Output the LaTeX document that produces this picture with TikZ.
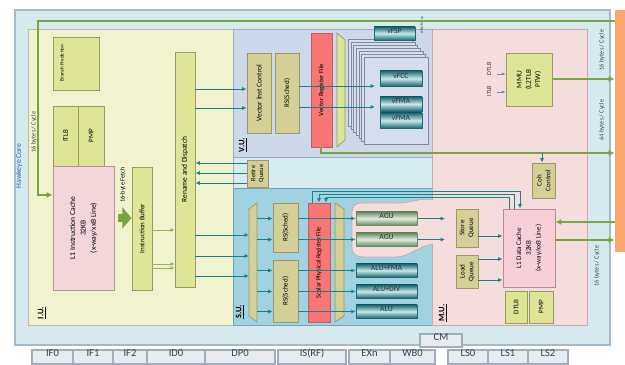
\documentclass[tikz,border=0pt]{standalone}
\usepackage{fontspec}
\setmainfont{Carlito}
\usetikzlibrary{arrows.meta,fit,calc}
\definecolor{bgblue}{RGB}{214,233,238}
\definecolor{bgbord}{RGB}{165,185,200}
\definecolor{orng}{RGB}{250,168,112}
\definecolor{iufill}{RGB}{241,243,206}
\definecolor{iubord}{RGB}{185,190,160}
\definecolor{vufill}{RGB}{205,216,234}
\definecolor{vubord}{RGB}{160,172,192}
\definecolor{vupage}{RGB}{214,222,238}
\definecolor{rtfill}{RGB}{214,236,240}
\definecolor{sufill}{RGB}{160,210,226}
\definecolor{subord}{RGB}{110,165,185}
\definecolor{mufill}{RGB}{246,221,221}
\definecolor{mubord}{RGB}{200,170,170}
\definecolor{yfill}{RGB}{222,229,150}
\definecolor{ybord}{RGB}{150,155,95}
\definecolor{kfill}{RGB}{212,207,150}
\definecolor{kbord}{RGB}{160,150,100}
\definecolor{pkfill}{RGB}{242,214,218}
\definecolor{pkbord}{RGB}{180,150,155}
\definecolor{l1dfill}{RGB}{248,206,216}
\definecolor{l1dbord}{RGB}{190,135,150}
\definecolor{rfred}{RGB}{248,118,118}
\definecolor{rfbord}{RGB}{200,90,90}
\definecolor{gline}{RGB}{120,165,60}
\definecolor{glight}{RGB}{150,180,95}
\definecolor{teal1}{RGB}{25,130,135}
\definecolor{tealdk}{RGB}{30,105,115}
\definecolor{tealmid}{RGB}{200,232,232}
\definecolor{agudk}{RGB}{105,140,100}
\definecolor{agumid}{RGB}{225,238,220}
\definecolor{pipefill}{RGB}{232,235,240}
\definecolor{pipebord}{RGB}{165,172,185}
\definecolor{pipetxt}{RGB}{55,65,85}
\definecolor{hawk}{RGB}{50,100,175}
\definecolor{mmuarr}{RGB}{95,140,195}
\newcommand\myfs[1]{\fontsize{#1}{#1}\selectfont}
\begin{document}
\begin{tikzpicture}[x=0.025cm,y=-0.025cm,
  bg/.style={inner sep=0pt, line width=0.6pt},
  ybox/.style={draw=ybord, fill=yfill, line width=0.6pt, inner sep=0pt},
  kbox/.style={draw=kbord, fill=kfill, line width=0.6pt, inner sep=0pt},
  pbox/.style={draw=pkbord, fill=pkfill, line width=0.6pt, inner sep=0pt},
  rbox/.style={draw=rfbord, fill=rfred, line width=0.6pt, inner sep=0pt},
  rt/.style={rotate=90, align=center, inner sep=0pt, font=\fontsize{5}{6.2}\selectfont},
  alubox/.style={draw=tealdk, top color=tealdk, bottom color=tealdk, middle color=tealmid, line width=0.5pt, inner sep=0pt, font=\myfs{5.5}, text=black!80},
  agubox/.style={draw=agudk, top color=agudk, bottom color=agudk, middle color=agumid, line width=0.5pt, inner sep=0pt, font=\myfs{5.5}, text=black!80},
  pipe/.style={draw=pipebord, fill=pipefill, line width=0.8pt, inner sep=0pt, font=\myfs{7.5}, text=pipetxt},
  side/.style={rotate=90, font=\myfs{4.5}, text=black!75, inner sep=0pt},
  ulabel/.style={rotate=90, font=\bfseries\myfs{6}, inner sep=0pt},
  tarr/.style={draw=teal1, line width=0.7pt, -{Latex[length=1.1mm,width=1mm]}},
  gln/.style={draw=gline, line width=1.4pt},
  garr/.style={gln, -{Latex[length=1.5mm,width=1.5mm]}},
  glarr/.style={draw=glight, line width=0.7pt, -{Latex[length=1mm,width=1mm]}}]
\useasboundingbox (0,0) rectangle (625,365);
% ---------- backgrounds ----------
\node[bg, fit={(15,10)(610,345)}, fill=bgblue, draw=bgbord, line width=0.8pt] (core) {};
\node[bg, fit={(615,10)(625,252)}, fill=orng] (l2) {};
\node[bg, fit={(28,29)(233,325)}, fill=iufill, draw=iubord] (iu) {};
\node[bg, fit={(233,29)(432,157)}, fill=vufill, draw=vubord] (vu) {};
\node[bg, fit={(233,157)(432,188)}, fill=rtfill, draw=vubord] (rtr) {};
\node[bg, fit={(233,188)(432,325)}, fill=sufill, draw=subord] (su) {};
\node[bg, fit={(432,29)(587,325)}, fill=mufill, draw=mubord] (mu) {};
% pink extension of M.U. around the AGUs
\fill[mufill] (433,200) .. controls (420,197) and (410,204) .. (395,203) -- (364,203)
  .. controls (353,203) and (352,207) .. (352,215) -- (352,246)
  .. controls (352,255) and (356,257) .. (366,257) -- (395,257)
  .. controls (410,257) and (418,246) .. (433,244) -- cycle;
\draw[mubord, line width=0.5pt] (433,200) .. controls (420,197) and (410,204) .. (395,203) -- (364,203)
  .. controls (353,203) and (352,207) .. (352,215) -- (352,246)
  .. controls (352,255) and (356,257) .. (366,257) -- (395,257)
  .. controls (410,257) and (418,246) .. (433,244);
% ---------- side labels ----------
\node[rotate=90, font=\myfs{5.5}, text=hawk, inner sep=0pt] (hk) at (19,166) {Hawkeye Core};
\node[side] (bw1) at (34,132) {16 bytes / Cycle};
\node[side] (bw2) at (602,50) {16 bytes / Cycle};
\node[side] (bw3) at (602,120) {64 bytes / Cycle};
\node[side] (bw4) at (597,266) {16 bytes / Cycle};
\node[rotate=90, font=\myfs{3}, inner sep=0pt, text=black!70] (ent) at (422,25) {64b/Entry};
% ---------- I.U. ----------
\node[ybox, fit={(53,37)(99,90)}] (bp) {};
\node[rt, font=\myfs{3.6}] (bpT) at (62,63) {Branch Prediction};
\node[ybox, fit={(53,106)(78,166)}] (itlb) {};
\node[rt] (itlbT) at (itlb) {ITLB};
\node[ybox, fit={(78,106)(104,166)}] (ipmp) {};
\node[rt] (ipmpT) at (ipmp) {PMP};
\node[pbox, fit={(53,166)(114,290)}] (ic) {};
\node[rt, font=\fontsize{5.4}{7.4}\selectfont] (icT) at (ic) {L1 Instruction Cache\\32KB\\(x-way/xxB Line)};
\node[ybox, fit={(132,167)(152,290)}] (ib) {};
\node[rt] (ibT) at (ib) {Instruction Buffer};
\node[ybox, fit={(175,52)(195,287)}] (ren) {};
\node[rt, font=\myfs{5.3}] (renT) at (ren) {Rename and Dispatch};
\node[rt, font=\myfs{4.5}] (fetch) at (123,185) {16-byte Fetch};
\node[ulabel] (iul) at (42,313) {\underline{I.U.}};
% ---------- V.U. ----------
\node[kbox, fit={(247,53)(271,133)}] (vic) {};
\node[rt, font=\myfs{5.3}] (vicT) at (vic) {Vector Inst Control};
\node[kbox, fit={(275,53)(299,133)}] (vrs) {};
\node[rt] (vrsT) at (vrs) {RS(Sched)};
\node[rbox, fit={(311,33)(332,147)}] (vrf) {};
\node[rt, font=\myfs{4.8}] (vrfT) at (321.5,90) {Vector Register File};
\fill[yfill, draw=ybord, line width=0.5pt] (337,33) -- (345,40) -- (345,140) -- (337,147) -- cycle;
\foreach \i in {6,5,...,1} {
  \draw[fill=vupage, draw=vubord!80!black, line width=0.4pt] ({364-2.6*\i},{57-2.9*\i}) rectangle ++(64,87);
}
\node[bg, fit={(364,57)(428,144)}, fill=vupage, draw=vubord!80!black, line width=0.5pt] (vpg) {};
\node[alubox, fit={(374,27)(415,40)}] (vfsp) {vFSP};
\node[alubox, fit={(380,71)(422,86)}] (vfcc) {vFCC};
\node[alubox, fit={(380,97)(422,111)}] (vfma1) {vFMA};
\node[alubox, fit={(380,113)(422,128)}] (vfma2) {vFMA};
\node[ulabel] (vul) at (243,145) {\underline{V.U.}};
\node[kbox, fit={(247,160)(268,187)}] (rq) {};
\node[rt, font=\fontsize{4.6}{5.6}\selectfont] (rqT) at (rq) {Retire\\Queue};
% ---------- S.U. ----------
\fill[kfill, draw=kbord, line width=0.5pt] (249,209) -- (257,203) -- (257,322) -- (249,316) -- cycle;
\coordinate (mxl) at (249,260);
\coordinate (mxr) at (257,260);
\node[kbox, fit={(273,203)(298,252)}] (rs1) {};
\node[rt] (rs1T) at (rs1) {RS(Sched)};
\node[kbox, fit={(273,260)(298,322)}] (rs2) {};
\node[rt] (rs2T) at (rs2) {RS(Sched)};
\node[rbox, fit={(308,203)(330,322)}] (sprf) {};
\node[rt, font=\myfs{4.6}] (sprfT) at (sprf) {Scalar Physical Register File};
\fill[kfill, draw=kbord, line width=0.5pt] (335,203) -- (344,209) -- (344,316) -- (335,322) -- cycle;
\node[agubox, fit={(356,212)(417,225)}] (agu1) {AGU};
\node[agubox, fit={(356,233)(417,246)}] (agu2) {AGU};
\node[alubox, fit={(356,264)(417,277)}] (alu1) {ALU+FMA};
\node[alubox, fit={(356,285)(417,298)}] (alu2) {ALU+DIV};
\node[alubox, fit={(356,305)(417,318)}] (alu3) {ALU};
\node[ulabel] (sul) at (240,312) {\underline{S.U.}};
% ---------- M.U. ----------
\node[ybox, fit={(506,53)(552,106)}] (mmu) {};
\node[rt, font=\fontsize{5.2}{6.6}\selectfont] (mmuT) at (mmu) {MMU\\(L2TLB\\PTW)};
\node[side] (dtl) at (489,69) {DTLB};
\node[side] (itl) at (489,91) {ITLB};
\node[kbox, fit={(532,163)(555,198)}] (coh) {};
\node[rt] (cohT) at (coh) {Coh\\Control};
\node[kbox, fit={(456,209)(478,247)}] (sq) {};
\node[rt] (sqT) at (sq) {Store\\Queue};
\node[kbox, fit={(456,255)(478,288)}] (lq) {};
\node[rt] (lqT) at (lq) {Load\\Queue};
\node[fit={(503,209)(555,287)}, draw=l1dbord, fill=l1dfill, line width=0.6pt, inner sep=0pt] (l1d) {};
\node[rt, font=\fontsize{5}{7}\selectfont] (l1dT) at (l1d) {L1 Data Cache\\32KB\\(x-way/xxB Line)};
\node[ybox, fit={(505,291)(527,323)}] (dtlb) {};
\node[rt] (dtlbT) at (dtlb) {DTLB};
\node[ybox, fit={(529,291)(553,323)}] (dpmp) {};
\node[rt] (dpmpT) at (dpmp) {PMP};
\node[ulabel] (mul) at (443,313) {\underline{M.U.}};
% ---------- pipeline ----------
\node[pipe, fit={(420,334)(462,347)}] (cm) {CM};
\node[pipe, fit={(32,350)(73,364)}] (p1) {IF0};
\node[pipe, fit={(73,350)(113,364)}] (p2) {IF1};
\node[pipe, fit={(113,350)(147,364)}] (p3) {IF2};
\node[pipe, fit={(147,350)(205,364)}] (p4) {ID0};
\node[pipe, fit={(205,350)(275,364)}] (p5) {DP0};
\node[pipe, fit={(278,350)(346,364)}] (p6) {IS(RF)};
\node[pipe, fit={(349,350)(390,364)}] (p7) {EXn};
\node[pipe, fit={(390,350)(435,364)}] (p8) {WB0};
\node[pipe, fit={(448,350)(488,364)}] (p9) {LS0};
\node[pipe, fit={(488,350)(528,364)}] (p10) {LS1};
\node[pipe, fit={(528,350)(568,364)}] (p11) {LS2};
% ---------- green connectors ----------
\draw[garr] (l2.west |- 0,21) -- (38,21) -- (38,195) -- (ic.west |- 0,195);
\draw[garr] (mmu.east |- 0,79) -- (l2.west |- 0,79);
\draw[garr] (vrf.south -| 321,0) -- (321,153) -- (l2.west |- 0,153);
\draw[garr] (l2.west |- 0,222) -- (l1d.east |- 0,222);
\draw[garr] (l1d.east |- 0,240) -- (l2.west |- 0,240);
\draw[draw=gline, line width=6pt, -{Triangle[length=2.3mm,width=5.2mm]}, shorten <=2.5pt] (ic.east |- 0,218) -- (ib.west |- 0,218);
\draw[glarr] (ib.east |- 0,230) -- (ren.west |- 0,230);
\draw[glarr] (ib.east |- 0,264) -- (ren.west |- 0,264);
\draw[glarr] (ib.east |- 0,268) -- (ren.west |- 0,268);
% ---------- teal connectors ----------
\draw[tarr] (ren.east |- 0,89) -- (vic.west |- 0,89);
\draw[tarr] (ren.east |- 0,108) -- (vic.west |- 0,108);
\coordinate (vin1) at (375,86);
\coordinate (vin2) at (375,107);
\draw[tarr] (vrs.east |- vin1) -- (vin1);
\draw[tarr] (vrs.east |- vin2) -- (vin2);
\draw[tarr] (rq.west |- 0,163) -- (ren.east |- 0,163);
\draw[tarr] (rq.west |- 0,173) -- (ren.east |- 0,173);
\draw[tarr] (rq.west |- 0,183) -- (ren.east |- 0,183);
\draw[tarr] (ren.east |- 0,235) -- (mxl |- 0,235);
\draw[tarr] (ren.east |- 0,256) -- (mxl |- 0,256);
\draw[tarr] (ren.east |- 0,276) -- (mxl |- 0,276);
\draw[tarr] (mxr |- agu1) -- (rs1.west |- agu1);
\draw[tarr] (mxr |- agu2) -- (rs1.west |- agu2);
\draw[tarr] (mxr |- alu1) -- (rs2.west |- alu1);
\draw[tarr] (mxr |- alu2) -- (rs2.west |- alu2);
\draw[tarr] (mxr |- alu3) -- (rs2.west |- alu3);
\draw[tarr] (rs1.east |- agu1) -- (agu1.west);
\draw[tarr] (rs1.east |- agu2) -- (agu2.west);
\draw[tarr] (rs2.east |- alu1) -- (alu1.west);
\draw[tarr] (rs2.east |- alu2) -- (alu2.west);
\draw[tarr] (rs2.east |- alu3) -- (alu3.west);
\coordinate (ag1o) at (445,218.5);
\coordinate (ag2o) at (445,239.5);
\draw[tarr] (agu1.east) -- (ag1o);
\draw[tarr] (agu2.east) -- (ag2o);
\draw[tarr] (sq.east |- 0,236) -- (l1d.west |- 0,236);
\draw[tarr] (lq.east |- 0,259) -- (l1d.west |- 0,259);
\draw[tarr] (lq.east |- 0,280) -- (l1d.west |- 0,280);
\draw[tarr] (sprf.north -| 312,0) -- (312,191) -- (520,191) -- (l1d.north -| 520,0);
\draw[tarr] (l1d.north -| 514,0) -- (514,194) -- (319,194) -- (sprf.north -| 319,0);
\draw[tarr] (l1d.north -| 509,0) -- (509,197) -- (326,197) -- (sprf.north -| 326,0);
\draw[tarr] (542,153) -- (coh.north -| 542,0);
\coordinate (mi1) at (497,74);
\coordinate (mi2) at (497,92);
\draw[draw=mmuarr, line width=0.6pt, -{Latex[length=0.9mm,width=0.8mm]}] (mi1) -- (mmu.west |- mi1);
\draw[draw=mmuarr, line width=0.6pt, -{Latex[length=0.9mm,width=0.8mm]}] (mi2) -- (mmu.west |- mi2);
\end{tikzpicture}
\end{document}
